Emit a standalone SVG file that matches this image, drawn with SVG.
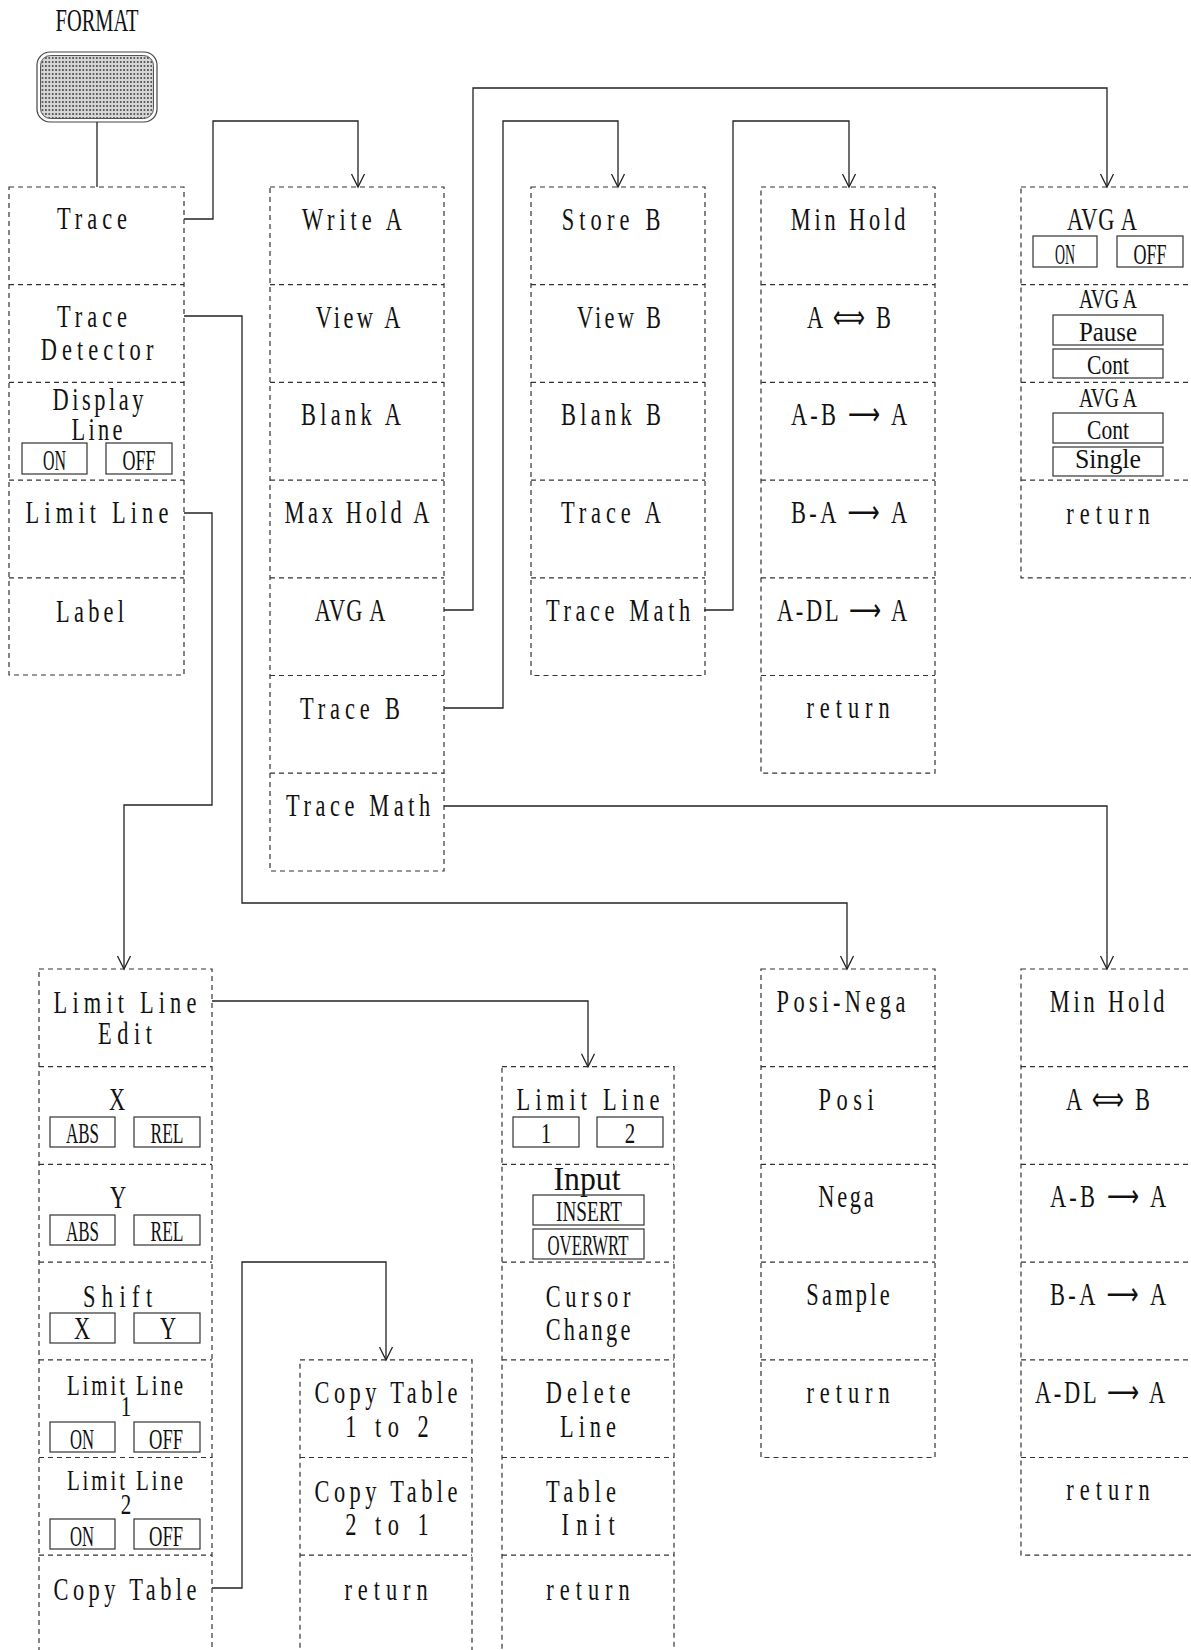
<svg xmlns="http://www.w3.org/2000/svg" width="1191" height="1650" viewBox="0 0 1191 1650">
<style>
.col{fill:none;stroke:#333;stroke-width:1.2;stroke-dasharray:5 4}
.dv{stroke:#333;stroke-width:1.2;stroke-dasharray:5 4}
.box{fill:none;stroke:#333;stroke-width:1.2}
.t{font-family:"Liberation Serif","DejaVu Serif",serif;font-size:32px;fill:#111;text-anchor:middle}
.w{transform:scaleX(0.7);transform-box:fill-box;transform-origin:center}
.b{font-size:30px}
.sm{font-size:27px}
.in{font-size:34px}
.ar{font-family:"DejaVu Sans",sans-serif}
.conn{fill:none;stroke:#222;stroke-width:1.3}
.arr{marker-end:url(#arr)}
</style>
<defs>
<marker id="arr" markerUnits="userSpaceOnUse" markerWidth="16" markerHeight="16" viewBox="-14 -8 16 16" refX="0" refY="0" orient="auto">
<path d="M-13,-6.5 L0,0 L-13,6.5" fill="none" stroke="#222" stroke-width="1.3"/>
</marker>
<pattern id="dots" patternUnits="userSpaceOnUse" width="3.4" height="4">
<rect width="3.4" height="4" fill="#d6d6d6"/>
<rect x="0.9" y="1.2" width="1.6" height="1.6" fill="#333"/>
</pattern>
</defs>
<rect width="1191" height="1650" fill="#fff"/>

<g id="format">
<text class="t" x="97" y="31" font-size="33" textLength="83" lengthAdjust="spacingAndGlyphs">FORMAT</text>
<rect x="37" y="52" width="120" height="70" rx="13" fill="none" stroke="#444" stroke-width="1.2"/>
<rect x="40.5" y="55.5" width="113" height="63" rx="10" fill="url(#dots)" stroke="#555" stroke-width="1"/>
</g>

<g id="connectors">
<path class="conn" d="M97,122 V187" stroke="#555"/>
<path class="conn arr" d="M184,219 H213 V121 H358 V187"/>
<path class="conn arr" d="M184,316 H242 V903 H847 V969"/>
<path class="conn arr" d="M184,513 H212 V805 H124 V969"/>
<path class="conn arr" d="M444,610 H473 V88 H1107 V187"/>
<path class="conn arr" d="M444,708 H503 V121 H618 V187"/>
<path class="conn arr" d="M704,610 H733 V121 H849 V187"/>
<path class="conn arr" d="M444,806 H1107 V969"/>
<path class="conn arr" d="M212,1001 H588 V1066.7"/>
<path class="conn arr" d="M212,1588 H242 V1262 H386 V1360"/>
</g>

<g id="menu-format">
<rect class="col" x="9" y="187" width="175" height="488"/>
<line class="dv" x1="9" y1="284.7" x2="184" y2="284.7"/>
<line class="dv" x1="9" y1="382.4" x2="184" y2="382.4"/>
<line class="dv" x1="9" y1="480.1" x2="184" y2="480.1"/>
<line class="dv" x1="9" y1="577.8" x2="184" y2="577.8"/>
<text class="t w" x="92" y="229" textLength="100">Trace</text>
<text class="t w" x="92" y="327" textLength="100">Trace</text>
<text class="t w" x="97" y="360" textLength="161">Detector</text>
<text class="t w" x="98" y="410" textLength="130">Display</text>
<text class="t w" x="97" y="440" textLength="73">Line</text>
<rect class="box" x="22" y="443" width="65" height="31"/>
<rect class="box" x="106" y="443" width="66" height="31"/>
<text class="t b" x="54.5" y="470" textLength="23" lengthAdjust="spacingAndGlyphs">ON</text>
<text class="t b" x="139" y="470" textLength="33" lengthAdjust="spacingAndGlyphs">OFF</text>
<text class="t w" x="97" y="523" textLength="204">Limit Line</text>
<text class="t w" x="90" y="622" textLength="97">Label</text>
</g>

<g id="menu-trace">
<rect class="col" x="270" y="187" width="174" height="684"/>
<line class="dv" x1="270" y1="284.7" x2="444" y2="284.7"/>
<line class="dv" x1="270" y1="382.4" x2="444" y2="382.4"/>
<line class="dv" x1="270" y1="480.1" x2="444" y2="480.1"/>
<line class="dv" x1="270" y1="577.8" x2="444" y2="577.8"/>
<line class="dv" x1="270" y1="675.5" x2="444" y2="675.5"/>
<line class="dv" x1="270" y1="773.2" x2="444" y2="773.2"/>
<text class="t w" x="352" y="230" textLength="143">Write A</text>
<text class="t w" x="358" y="328" textLength="121">View A</text>
<text class="t w" x="351" y="425" textLength="143">Blank A</text>
<text class="t w" x="357" y="523" textLength="207">Max Hold A</text>
<text class="t w" x="350" y="621" textLength="101">AVG A</text>
<text class="t w" x="350" y="719" textLength="143">Trace B</text>
<text class="t w" x="358" y="816" textLength="206">Trace Math</text>
</g>

<g id="menu-trace-b">
<rect class="col" x="531" y="187" width="174" height="488.5"/>
<line class="dv" x1="531" y1="284.7" x2="705" y2="284.7"/>
<line class="dv" x1="531" y1="382.4" x2="705" y2="382.4"/>
<line class="dv" x1="531" y1="480.1" x2="705" y2="480.1"/>
<line class="dv" x1="531" y1="577.8" x2="705" y2="577.8"/>
<text class="t w" x="611" y="230" textLength="141">Store B</text>
<text class="t w" x="619" y="328" textLength="120">View B</text>
<text class="t w" x="611" y="425" textLength="143">Blank B</text>
<text class="t w" x="611" y="523" textLength="143">Trace A</text>
<text class="t w" x="618" y="621" textLength="206">Trace Math</text>
</g>

<g id="menu-trace-math-1">
<rect class="col" x="761" y="187" width="174" height="586.2"/>
<line class="dv" x1="761" y1="284.7" x2="935" y2="284.7"/>
<line class="dv" x1="761" y1="382.4" x2="935" y2="382.4"/>
<line class="dv" x1="761" y1="480.1" x2="935" y2="480.1"/>
<line class="dv" x1="761" y1="577.8" x2="935" y2="577.8"/>
<line class="dv" x1="761" y1="675.5" x2="935" y2="675.5"/>
<text class="t w" x="848" y="230" textLength="164">Min Hold</text>
<text class="t w" x="849" y="328" textLength="120">A <tspan class="ar">⟺</tspan> B</text>
<text class="t w" x="849" y="425" textLength="166">A-B <tspan class="ar">⟶</tspan> A</text>
<text class="t w" x="849" y="523" textLength="166">B-A <tspan class="ar">⟶</tspan> A</text>
<text class="t w" x="842" y="621" textLength="186">A-DL <tspan class="ar">⟶</tspan> A</text>
<text class="t w" x="848" y="718" textLength="119">return</text>
</g>

<g id="menu-avg">
<rect class="col" x="1021" y="187" width="175" height="390.8"/>
<line class="dv" x1="1021" y1="284.7" x2="1196" y2="284.7"/>
<line class="dv" x1="1021" y1="382.4" x2="1196" y2="382.4"/>
<line class="dv" x1="1021" y1="480.1" x2="1196" y2="480.1"/>
<text class="t w" x="1102" y="230" textLength="100">AVG A</text>
<rect class="box" x="1033" y="236" width="64" height="31"/>
<rect class="box" x="1117" y="236" width="66" height="31"/>
<text class="t b" x="1065" y="264" textLength="20" lengthAdjust="spacingAndGlyphs">ON</text>
<text class="t b" x="1150" y="264" textLength="33" lengthAdjust="spacingAndGlyphs">OFF</text>
<text class="t sm" x="1108" y="308" textLength="58" lengthAdjust="spacingAndGlyphs">AVG A</text>
<rect class="box" x="1053" y="315" width="110" height="30"/>
<rect class="box" x="1053" y="349" width="110" height="29"/>
<text class="t sm" x="1108" y="341" textLength="58" lengthAdjust="spacingAndGlyphs">Pause</text>
<text class="t sm" x="1108" y="374" textLength="42" lengthAdjust="spacingAndGlyphs">Cont</text>
<text class="t sm" x="1108" y="407" textLength="58" lengthAdjust="spacingAndGlyphs">AVG A</text>
<rect class="box" x="1053" y="413" width="110" height="30"/>
<rect class="box" x="1053" y="447" width="110" height="29"/>
<text class="t sm" x="1108" y="439" textLength="42" lengthAdjust="spacingAndGlyphs">Cont</text>
<text class="t sm" x="1108" y="468" textLength="66" lengthAdjust="spacingAndGlyphs">Single</text>
<text class="t w" x="1108" y="524" textLength="119">return</text>
</g>

<g id="menu-limit-line">
<rect class="col" x="39" y="969" width="173" height="740"/>
<line class="dv" x1="39" y1="1066.7" x2="212" y2="1066.7"/>
<line class="dv" x1="39" y1="1164.4" x2="212" y2="1164.4"/>
<line class="dv" x1="39" y1="1262.1" x2="212" y2="1262.1"/>
<line class="dv" x1="39" y1="1359.8" x2="212" y2="1359.8"/>
<line class="dv" x1="39" y1="1457.5" x2="212" y2="1457.5"/>
<line class="dv" x1="39" y1="1555.2" x2="212" y2="1555.2"/>
<text class="t w" x="125" y="1013" textLength="204">Limit Line</text>
<text class="t w" x="125" y="1044" textLength="77">Edit</text>
<text class="t w" x="117" y="1110">X</text>
<rect class="box" x="50" y="1117" width="65" height="30"/>
<rect class="box" x="134" y="1117" width="66" height="30"/>
<text class="t b" x="82.5" y="1143" textLength="33" lengthAdjust="spacingAndGlyphs">ABS</text>
<text class="t b" x="167" y="1143" textLength="33" lengthAdjust="spacingAndGlyphs">REL</text>
<text class="t w" x="118" y="1208">Y</text>
<rect class="box" x="50" y="1215" width="65" height="30"/>
<rect class="box" x="134" y="1215" width="66" height="30"/>
<text class="t b" x="82.5" y="1241" textLength="33" lengthAdjust="spacingAndGlyphs">ABS</text>
<text class="t b" x="167" y="1241" textLength="33" lengthAdjust="spacingAndGlyphs">REL</text>
<text class="t w" x="117.5" y="1307" textLength="99">Shift</text>
<rect class="box" x="50" y="1313" width="65" height="30"/>
<rect class="box" x="134" y="1313" width="66" height="30"/>
<text class="t w" x="82" y="1339">X</text>
<text class="t w" x="168" y="1339">Y</text>
<text class="t b w" x="125" y="1395" textLength="166">Limit Line</text>
<text class="t b w" x="126" y="1416">1</text>
<rect class="box" x="50" y="1422" width="65" height="30"/>
<rect class="box" x="134" y="1422" width="66" height="30"/>
<text class="t b" x="82" y="1449" textLength="24" lengthAdjust="spacingAndGlyphs">ON</text>
<text class="t b" x="166" y="1449" textLength="34" lengthAdjust="spacingAndGlyphs">OFF</text>
<text class="t b w" x="125" y="1490" textLength="166">Limit Line</text>
<text class="t b w" x="126" y="1514">2</text>
<rect class="box" x="50" y="1519" width="65" height="30"/>
<rect class="box" x="134" y="1519" width="66" height="30"/>
<text class="t b" x="82" y="1546" textLength="24" lengthAdjust="spacingAndGlyphs">ON</text>
<text class="t b" x="166" y="1546" textLength="34" lengthAdjust="spacingAndGlyphs">OFF</text>
<text class="t w" x="125" y="1600" textLength="204">Copy Table</text>
</g>

<g id="menu-copy-table">
<rect class="col" x="300" y="1359.8" width="172" height="350"/>
<line class="dv" x1="300" y1="1457.5" x2="472" y2="1457.5"/>
<line class="dv" x1="300" y1="1555.2" x2="472" y2="1555.2"/>
<text class="t w" x="386" y="1403" textLength="204">Copy Table</text>
<text class="t w" x="387" y="1437" textLength="119">1 to 2</text>
<text class="t w" x="386" y="1502" textLength="204">Copy Table</text>
<text class="t w" x="387" y="1535" textLength="119">2 to 1</text>
<text class="t w" x="386" y="1600" textLength="119">return</text>
</g>

<g id="menu-limit-line-edit">
<rect class="col" x="502" y="1066.7" width="172" height="650"/>
<line class="dv" x1="502" y1="1164.4" x2="674" y2="1164.4"/>
<line class="dv" x1="502" y1="1262.1" x2="674" y2="1262.1"/>
<line class="dv" x1="502" y1="1359.8" x2="674" y2="1359.8"/>
<line class="dv" x1="502" y1="1457.5" x2="674" y2="1457.5"/>
<line class="dv" x1="502" y1="1555.2" x2="674" y2="1555.2"/>
<text class="t w" x="588" y="1110" textLength="204">Limit Line</text>
<rect class="box" x="513" y="1117" width="66" height="30"/>
<rect class="box" x="597" y="1117" width="66" height="30"/>
<text class="t b w" x="546" y="1143">1</text>
<text class="t b w" x="630" y="1143">2</text>
<text class="t in" x="587" y="1190" textLength="67" lengthAdjust="spacingAndGlyphs">Input</text>
<rect class="box" x="533" y="1195" width="111" height="30"/>
<rect class="box" x="533" y="1229" width="111" height="30"/>
<text class="t b" x="589" y="1221" textLength="66" lengthAdjust="spacingAndGlyphs">INSERT</text>
<text class="t b" x="588" y="1255" textLength="81" lengthAdjust="spacingAndGlyphs">OVERWRT</text>
<text class="t w" x="588" y="1307" textLength="121">Cursor</text>
<text class="t w" x="588" y="1340" textLength="121">Change</text>
<text class="t w" x="588" y="1403" textLength="121">Delete</text>
<text class="t w" x="588" y="1437" textLength="80">Line</text>
<text class="t w" x="581" y="1502" textLength="100">Table</text>
<text class="t w" x="588" y="1535" textLength="76">Init</text>
<text class="t w" x="588" y="1600" textLength="119">return</text>
</g>

<g id="menu-detector">
<rect class="col" x="761" y="969" width="174" height="488.5"/>
<line class="dv" x1="761" y1="1066.7" x2="935" y2="1066.7"/>
<line class="dv" x1="761" y1="1164.4" x2="935" y2="1164.4"/>
<line class="dv" x1="761" y1="1262.1" x2="935" y2="1262.1"/>
<line class="dv" x1="761" y1="1359.8" x2="935" y2="1359.8"/>
<text class="t w" x="841" y="1012" textLength="184">Posi-Nega</text>
<text class="t w" x="846" y="1110" textLength="79">Posi</text>
<text class="t w" x="846" y="1207" textLength="79">Nega</text>
<text class="t w" x="848" y="1305" textLength="119">Sample</text>
<text class="t w" x="848" y="1403" textLength="119">return</text>
</g>

<g id="menu-trace-math-2">
<rect class="col" x="1021" y="969" width="175" height="586.2"/>
<line class="dv" x1="1021" y1="1066.7" x2="1196" y2="1066.7"/>
<line class="dv" x1="1021" y1="1164.4" x2="1196" y2="1164.4"/>
<line class="dv" x1="1021" y1="1262.1" x2="1196" y2="1262.1"/>
<line class="dv" x1="1021" y1="1359.8" x2="1196" y2="1359.8"/>
<line class="dv" x1="1021" y1="1457.5" x2="1196" y2="1457.5"/>
<text class="t w" x="1107" y="1012" textLength="164">Min Hold</text>
<text class="t w" x="1108" y="1110" textLength="120">A <tspan class="ar">⟺</tspan> B</text>
<text class="t w" x="1108" y="1207" textLength="166">A-B <tspan class="ar">⟶</tspan> A</text>
<text class="t w" x="1108" y="1305" textLength="166">B-A <tspan class="ar">⟶</tspan> A</text>
<text class="t w" x="1100" y="1403" textLength="186">A-DL <tspan class="ar">⟶</tspan> A</text>
<text class="t w" x="1108" y="1500" textLength="119">return</text>
</g>
</svg>
